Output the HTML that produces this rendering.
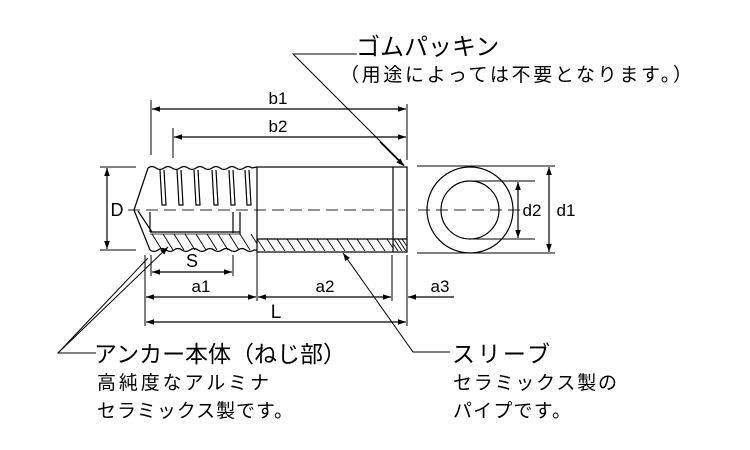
<!DOCTYPE html>
<html><head><meta charset="utf-8"><style>
html,body{margin:0;padding:0;background:#fff;}
svg{display:block}
text{font-family:"Liberation Sans","Noto Sans CJK JP",sans-serif;fill:#000}
</style></head><body>
<svg width="750" height="450" viewBox="0 0 750 450" xmlns="http://www.w3.org/2000/svg">
<defs>
<marker id="a" viewBox="0 0 10 10" refX="10" refY="5" markerWidth="8" markerHeight="8" orient="auto-start-reverse" markerUnits="userSpaceOnUse"><path d="M0,1.5 L10,5 L0,8.5 Z" fill="#000"/></marker>
<clipPath id="lh"><rect x="150" y="233" width="107" height="17"/></clipPath>
<clipPath id="sh"><rect x="257" y="239" width="136" height="12"/></clipPath>
<clipPath id="ph"><rect x="393" y="239" width="14" height="12"/></clipPath>
</defs>
<g stroke="#000" stroke-width="1.2" fill="none">
<!-- centerlines -->
<line x1="128" y1="210" x2="405" y2="210" stroke="#555" stroke-dasharray="12,6"/>
<line x1="418" y1="210" x2="522" y2="210" stroke="#555" stroke-dasharray="12,6"/>
<!-- sleeve -->
<rect x="257" y="167" width="150" height="85"/>
<line x1="393" y1="167" x2="393" y2="252"/>
<line x1="257" y1="239" x2="407" y2="239"/>
<g clip-path="url(#sh)" stroke-width="0.9">
<path d="M257,239l8,12M267,239l8,12M277,239l8,12M287,239l8,12M297,239l8,12M307,239l8,12M317,239l8,12M327,239l8,12M337,239l8,12M347,239l8,12M357,239l8,12M367,239l8,12M377,239l8,12M387,239l8,12"/>
</g>
<g clip-path="url(#ph)" stroke-width="0.9">
<path d="M390,239l8,12M394,239l8,12M398,239l8,12M402,239l8,12"/>
</g>
<!-- anchor thread body -->
<path d="M134,210 L148,168"/>
<path d="M148,168 q4,-3 8,0 q4,3 8,0 q4,-3 8,0 q4,3 8,0 q4,-3 8,0 q4,3 8,0 q4,-3 8,0 q4,3 8,0 q4,-3 8,0 q4,3 8,0 q4,-3 8,0 q4,3 8,0 q4,-3 8,0 L257,167"/>
<path d="M160,170 l2,35 h4 l-2,-35 M177,170 l2,35 h4 l-2,-35 M194,170 l2,35 h4 l-2,-35 M212,170 l2,35 h4 l-2,-35 M229,170 l2,35 h4 l-2,-35 M245,170 l2,35 h4 l-2,-35"/>
<path d="M134,210 L150,250"/>
<path d="M138,211 L152,232"/>
<line x1="150" y1="212" x2="150" y2="232"/>
<line x1="150" y1="232" x2="240" y2="232"/>
<line x1="150" y1="234" x2="240" y2="234" stroke-width="0.8"/>
<line x1="233" y1="212" x2="233" y2="233"/>
<line x1="240" y1="212" x2="240" y2="234"/>
<path d="M150,250 q4,3 8,0 q4,-3 8,0 q4,3 8,0 q4,-3 8,0 q4,3 8,0 q4,-3 8,0 q4,3 8,0 q4,-3 8,0 q4,3 8,0 q4,-3 8,0 q4,3 8,0 q4,-3 8,0 q4,3 8,0 L257,250"/>
<g clip-path="url(#lh)" stroke-width="0.9">
<path d="M152,234l10,16M163,234l10,16M174,234l10,16M185,234l10,16M196,234l10,16M207,234l10,16M218,234l10,16M229,234l10,16M240,234l10,16M251,234l10,16"/>
</g>
<!-- end view -->
<circle cx="470" cy="210" r="43"/>
<circle cx="470" cy="210" r="29"/>
<line x1="417" y1="166" x2="555" y2="166" stroke-width="1"/>
<line x1="417" y1="253" x2="555" y2="253" stroke-width="1"/>
<line x1="470" y1="181" x2="535" y2="181" stroke-width="1"/>
<line x1="470" y1="239" x2="535" y2="239" stroke-width="1"/>
<line x1="518" y1="182" x2="518" y2="238" marker-start="url(#a)" marker-end="url(#a)"/>
<line x1="549" y1="167" x2="549" y2="252" marker-start="url(#a)" marker-end="url(#a)"/>
<!-- D -->
<line x1="100" y1="167" x2="136" y2="167" stroke-width="1"/>
<line x1="100" y1="250" x2="136" y2="250" stroke-width="1"/>
<line x1="107" y1="168" x2="107" y2="249" marker-start="url(#a)" marker-end="url(#a)"/>
<!-- top dims -->
<line x1="151" y1="100" x2="151" y2="155" stroke-width="1"/>
<line x1="173" y1="128" x2="173" y2="158" stroke-width="1"/>
<line x1="407" y1="104" x2="407" y2="160" stroke-width="1"/>
<line x1="152" y1="109" x2="406" y2="109" marker-start="url(#a)" marker-end="url(#a)"/>
<line x1="174" y1="137" x2="406" y2="137" marker-start="url(#a)" marker-end="url(#a)"/>
<!-- bottom dims -->
<line x1="145" y1="255" x2="145" y2="326" stroke-width="1"/>
<line x1="151" y1="255" x2="151" y2="276" stroke-width="1"/>
<line x1="233" y1="255" x2="233" y2="276" stroke-width="1"/>
<line x1="257" y1="252" x2="257" y2="301" stroke-width="1"/>
<line x1="392" y1="255" x2="392" y2="301" stroke-width="1"/>
<line x1="407" y1="255" x2="407" y2="326" stroke-width="1"/>
<line x1="152" y1="272" x2="232" y2="272" marker-start="url(#a)" marker-end="url(#a)"/>
<line x1="146" y1="297" x2="256" y2="297" marker-start="url(#a)" marker-end="url(#a)"/>
<line x1="258" y1="297" x2="391" y2="297" marker-start="url(#a)" marker-end="url(#a)"/>
<line x1="454" y1="297" x2="408" y2="297" marker-end="url(#a)"/>
<line x1="146" y1="322" x2="406" y2="322" marker-start="url(#a)" marker-end="url(#a)"/>
<!-- leaders -->
<path d="M357,54 H293 L404,165" stroke-width="1"/>
<line x1="380" y1="142" x2="404" y2="166" marker-end="url(#a)"/>
<path d="M96,353 H58 L148,258" stroke-width="1"/>
<line x1="58" y1="353" x2="168" y2="247" marker-end="url(#a)" stroke-width="1"/>
<path d="M450,352 H413 L343,253" stroke-width="1" marker-end="url(#a)"/>
</g>
<g font-size="17">
<text x="278" y="104" text-anchor="middle">b1</text>
<text x="278" y="132" text-anchor="middle">b2</text>
<text x="117" y="216" text-anchor="middle" font-size="18">D</text>
<text x="532" y="216" text-anchor="middle">d2</text>
<text x="566" y="216" text-anchor="middle">d1</text>
<text x="192" y="267" text-anchor="middle" font-size="18">S</text>
<text x="201" y="292" text-anchor="middle">a1</text>
<text x="325" y="292" text-anchor="middle">a2</text>
<text x="440" y="292" text-anchor="middle">a3</text>
<text x="276" y="318" text-anchor="middle" font-size="19">L</text>
</g>
<text x="356" y="55" font-size="24">ゴムパッキン</text>
<text x="340" y="81" font-size="19" textLength="352">（用途によっては不要となります。）</text>
<text x="94" y="362" font-size="23" textLength="252">アンカー本体（ねじ部）</text>
<text x="97" y="389" font-size="19" textLength="172">高純度なアルミナ</text>
<text x="97" y="417" font-size="19" textLength="196">セラミックス製です。</text>
<text x="452" y="362" font-size="23" textLength="98">スリーブ</text>
<text x="453" y="389" font-size="19" textLength="164">セラミックス製の</text>
<text x="453" y="417" font-size="19" textLength="118">パイプです。</text>
</svg>
</body></html>
